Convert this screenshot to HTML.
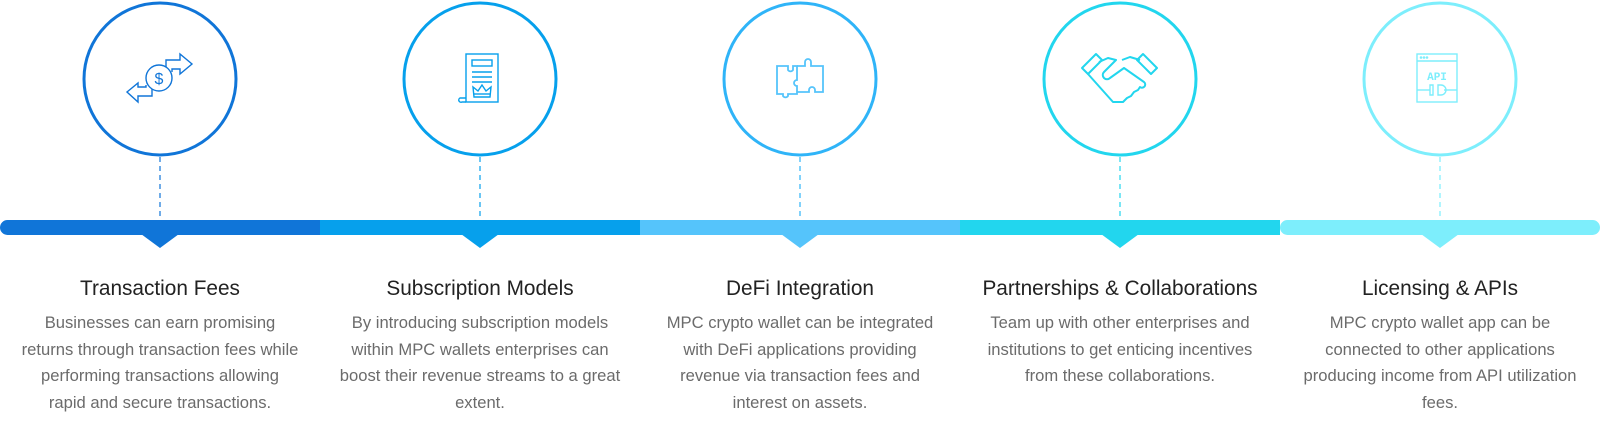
<!DOCTYPE html>
<html><head><meta charset="utf-8"><style>
body{margin:0;width:1604px;height:421px;background:#fff;position:relative;overflow:hidden;font-family:"Liberation Sans",sans-serif}
.col{position:absolute;top:275px;width:360px;text-align:center}
.t{font-size:20.8px;color:#222;height:28px;line-height:28px;white-space:nowrap}
.b{font-size:16.6px;color:#6b6b6b;line-height:26.6px;margin-top:7px;white-space:nowrap}
</style></head><body>
<svg width="1604" height="260" style="position:absolute;left:0;top:0">
<g fill="none" stroke-width="3">
<circle cx="160" cy="79" r="76" stroke="#1075d8"/>
<circle cx="480" cy="79" r="76" stroke="#06a0ec"/>
<circle cx="800" cy="79" r="76" stroke="#2fb4f8"/>
<circle cx="1120" cy="79" r="76" stroke="#22d6ee"/>
<circle cx="1440" cy="79" r="76" stroke="#7deefc"/>
</g>
<g stroke-width="1.2" stroke-dasharray="5,4">
<line x1="160" y1="157" x2="160" y2="221" stroke="#1075d8"/>
<line x1="480" y1="157" x2="480" y2="221" stroke="#06a0ec"/>
<line x1="800" y1="157" x2="800" y2="221" stroke="#2fb4f8"/>
<line x1="1120" y1="157" x2="1120" y2="221" stroke="#22d6ee"/>
<line x1="1440" y1="157" x2="1440" y2="221" stroke="#7deefc"/>
</g>
<rect x="0" y="220" width="330" height="15" rx="7.5" fill="#1075d8"/>
<rect x="320" y="220" width="320" height="15" fill="#06a0ec"/>
<rect x="640" y="220" width="320" height="15" fill="#55c4fb"/>
<rect x="960" y="220" width="320" height="15" fill="#22d6ee"/>
<rect x="1280" y="220" width="320" height="15" rx="7.5" fill="#7deefc"/>
<polygon points="141,234 179,234 160,248" fill="#1075d8"/>
<polygon points="461,234 499,234 480,248" fill="#06a0ec"/>
<polygon points="781,234 819,234 800,248" fill="#55c4fb"/>
<polygon points="1101,234 1139,234 1120,248" fill="#22d6ee"/>
<polygon points="1421,234 1459,234 1440,248" fill="#7deefc"/>
<g fill="none" stroke="#1075d8" stroke-width="1.4" stroke-linejoin="miter">
<circle cx="159" cy="78" r="13"/>
<text x="159" y="84" font-size="16" text-anchor="middle" fill="#1075d8" stroke="none" font-family="Liberation Sans">$</text>
<path d="M166,67 L166,60 L180,60 L180,54 L192,64 L180,74 L180,69 L172,69 L172,72"/>
<path d="M152,89 L152,96 L138,96 L138,102 L127,92 L138,83 L138,87 L146,87 L146,85"/>
</g>
<g fill="none" stroke="#06a0ec" stroke-width="1.4">
<rect x="466" y="54" width="32" height="48"/>
<rect x="472" y="60" width="20" height="6"/>
<line x1="472" y1="72" x2="492" y2="72"/><line x1="472" y1="77" x2="492" y2="77"/><line x1="472" y1="82" x2="492" y2="82"/>
<path d="M474,97 l-1,-10 l5,4 l4,-6 l4,6 l5,-4 l-1,10 z"/><line x1="474" y1="94" x2="490" y2="94"/>
<path d="M466,98 l-6,0 a2,2 0 0 0 2,4 l4,0"/>
</g>
<g fill="none" stroke="#55c4fb" stroke-width="1.8">
<path d="M777,66 h11 v4 a3,3 0 0 0 5,0 v-4 h4 v14 a3,3 0 0 0 0,6 v8 h-9 v2 a3,3 0 0 1 -5,0 v-2 h-6 z"/>
<path d="M797,66 h8 v-4 a3,3 0 0 1 6,0 v4 h12 v26 h-8 v-2 a3,3 0 0 0 -6,0 v2 h-12"/>
</g>
<g fill="none" stroke="#22d6ee" stroke-width="2" stroke-linejoin="round">
<path d="M1082,68 L1096,54 L1102,60 L1088,74 Z"/>
<path d="M1157,68 L1143,54 L1137,60 L1151,74 Z"/>
<path d="M1099,62 L1108,58 L1116,60 L1104,72 a4,4 0 0 0 6,6 L1124,68 L1144,82 a3,3 0 0 1 -4,5 l-2,3 l-4,2 l-3,4 l-4,2 l-4,4 l-10,0 L1088,74"/>
<path d="M1140,60 L1130,57 L1122,60"/>
</g>
<g fill="none" stroke="#7deefc" stroke-width="1.4">
<rect x="1417" y="54" width="40" height="48"/><line x1="1417" y1="61" x2="1457" y2="61"/>
<circle cx="1421" cy="57.5" r="0.6"/><circle cx="1424" cy="57.5" r="0.6"/><circle cx="1427" cy="57.5" r="0.6"/>
<text x="1437" y="80" font-size="11" text-anchor="middle" fill="#7deefc" stroke="none" font-family="Liberation Mono" font-weight="bold">API</text>
<line x1="1417" y1="90" x2="1430" y2="90"/><line x1="1444" y1="90" x2="1457" y2="90"/>
<path d="M1433,85 h-3 v10 h3 z"/><path d="M1438,85 h3 a4,4 0 0 1 0,10 h-3 z"/>
</g>
</svg>
<div class="col" style="left:-20px"><div class="t">Transaction Fees</div><div class="b">Businesses can earn promising<br>returns through transaction fees while<br>performing transactions allowing<br>rapid and secure transactions.</div></div>
<div class="col" style="left:300px"><div class="t">Subscription Models</div><div class="b">By introducing subscription models<br>within MPC wallets enterprises can<br>boost their revenue streams to a great<br>extent.</div></div>
<div class="col" style="left:620px"><div class="t">DeFi Integration</div><div class="b">MPC crypto wallet can be integrated<br>with DeFi applications providing<br>revenue via transaction fees and<br>interest on assets.</div></div>
<div class="col" style="left:940px"><div class="t">Partnerships &amp; Collaborations</div><div class="b">Team up with other enterprises and<br>institutions to get enticing incentives<br>from these collaborations.</div></div>
<div class="col" style="left:1260px"><div class="t">Licensing &amp; APIs</div><div class="b">MPC crypto wallet app can be<br>connected to other applications<br>producing income from API utilization<br>fees.</div></div>
</body></html>
